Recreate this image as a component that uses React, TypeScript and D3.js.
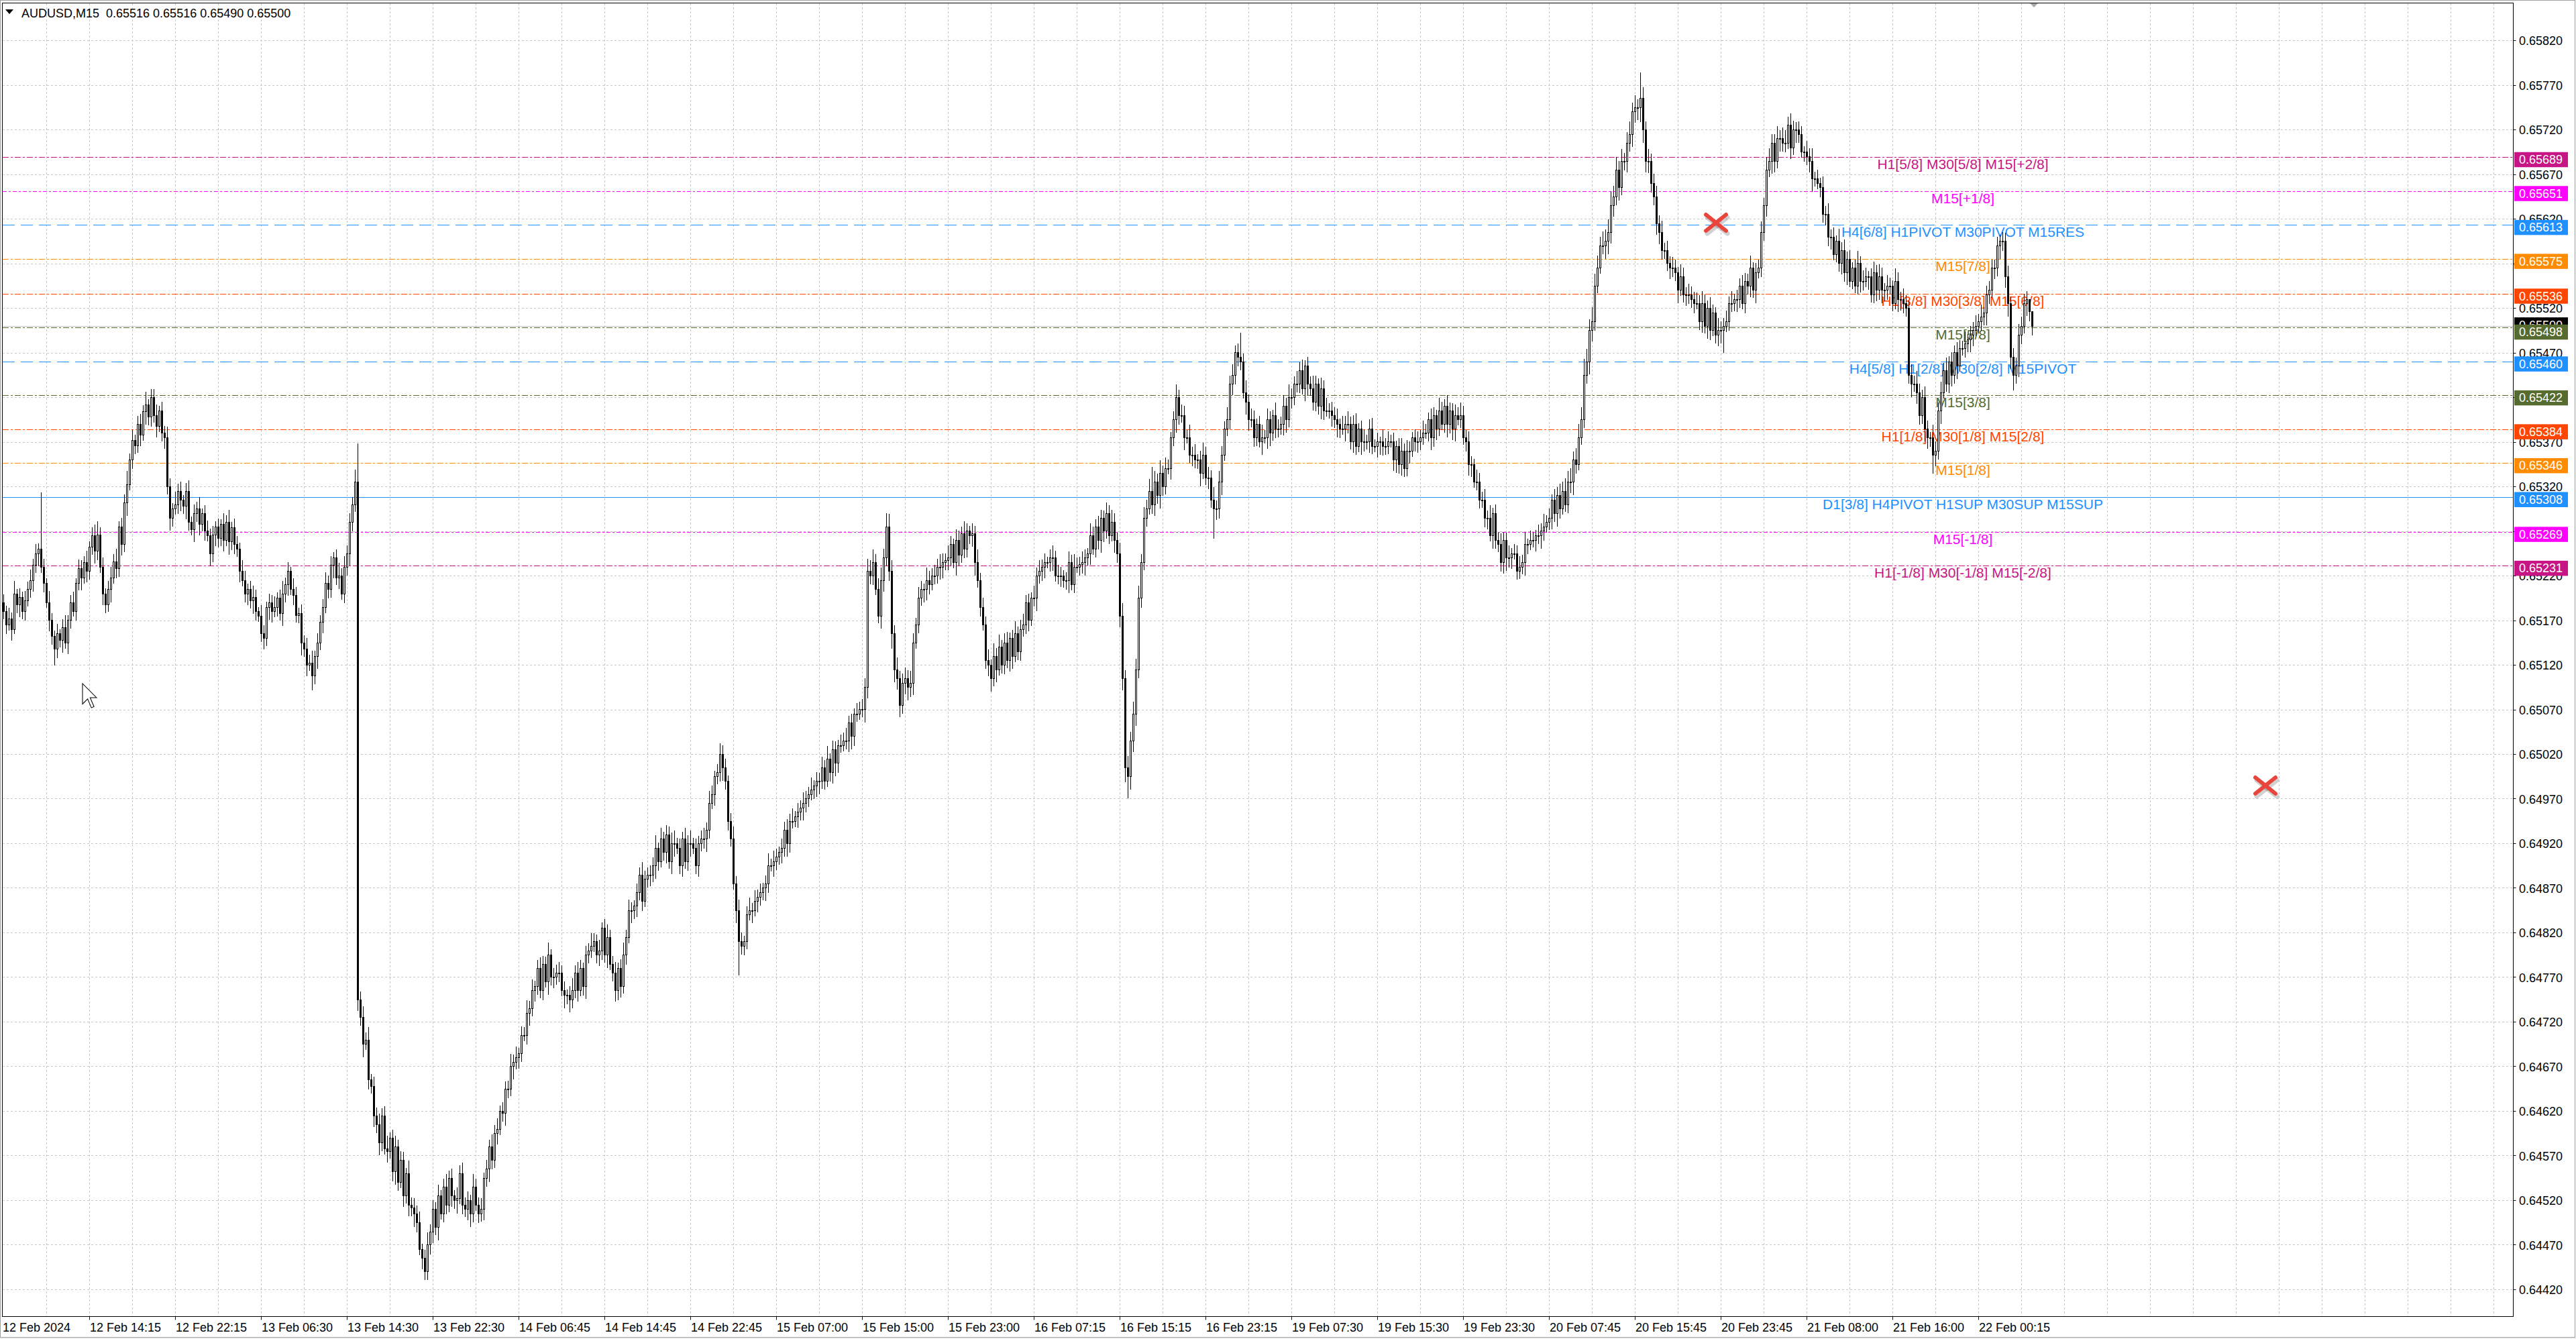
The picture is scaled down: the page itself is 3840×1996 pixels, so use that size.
import React from "react";
import * as d3 from "d3";

// ---------- DATA (prices in points of 0.00001 above 0.64000) ----------
const BASE = 0.64;
const PTS = 0.00001;
const firstOpen = 1190;

const closes = [
  1180,1165,1172,1160,1200,1188,1196,1180,1192,1205,
  1215,1232,1245,1250,1230,1212,1190,1170,1152,1138,
  1155,1148,1162,1145,1170,1190,1180,1212,1228,1218,
  1235,1225,1252,1265,1248,1266,1230,1200,1188,1205,
  1218,1236,1228,1275,1255,1302,1322,1350,1372,1366,
  1390,1378,1404,1412,1398,1420,1400,1388,1405,1380,
  1375,1320,1285,1295,1300,1315,1305,1298,1315,1280,
  1272,1290,1295,1278,1290,1270,1265,1245,1266,1275,
  1262,1278,1260,1280,1258,1274,1255,1250,1225,1215,
  1200,1205,1192,1196,1180,1175,1155,1150,1185,1190,
  1180,1185,1195,1178,1200,1210,1225,1205,1198,1176,
  1178,1145,1138,1120,1122,1108,1130,1145,1168,1185,
  1212,1205,1232,1240,1218,1220,1200,1230,1245,1280,
  1300,1325,745,725,695,700,655,648,615,605,
  585,615,578,575,590,552,580,540,565,525,
  550,515,512,505,495,465,455,440,470,485,
  510,490,525,505,535,515,545,525,520,522,
  550,515,510,520,505,535,515,505,510,545,
  555,580,565,595,600,620,618,645,645,670,
  675,680,685,705,705,730,735,755,760,780,
  755,785,765,795,770,770,775,775,755,750,
  750,745,755,775,755,780,760,795,800,805,
  810,795,800,825,795,815,785,775,755,780,
  760,795,815,845,845,850,865,885,855,880,
  885,885,895,915,900,925,910,930,900,920,
  920,915,895,925,900,920,920,915,895,920,
  925,925,935,965,975,995,1000,1020,1005,990,
  945,925,875,845,810,805,810,840,845,845,
  855,860,865,870,875,895,895,900,905,910,
  915,935,920,945,945,950,955,960,965,970,
  975,980,985,990,990,1005,990,1015,1000,1025,
  1010,1030,1030,1035,1035,1055,1040,1065,1065,1070,
  1070,1095,1225,1220,1235,1205,1175,1215,1240,1275,
  1225,1155,1115,1105,1075,1100,1105,1095,1100,1145,
  1165,1195,1205,1205,1215,1210,1220,1220,1230,1230,
  1235,1237,1240,1255,1235,1260,1243,1267,1250,1270,
  1265,1267,1235,1215,1185,1165,1125,1120,1105,1130,
  1115,1140,1120,1145,1125,1150,1130,1155,1135,1160,
  1165,1190,1170,1195,1195,1220,1225,1230,1235,1235,
  1240,1240,1220,1220,1220,1215,1215,1235,1210,1230,
  1230,1233,1235,1240,1245,1265,1250,1275,1260,1285,
  1270,1290,1265,1280,1260,1245,1175,1105,1005,995,
  1035,1065,1115,1195,1235,1285,1295,1315,1300,1325,
  1310,1335,1320,1340,1340,1375,1395,1420,1400,1400,
  1375,1375,1355,1355,1350,1350,1335,1355,1330,1330,
  1305,1295,1295,1325,1355,1385,1395,1435,1445,1470,
  1465,1460,1425,1415,1395,1395,1375,1390,1370,1375,
  1375,1395,1380,1400,1385,1385,1390,1410,1395,1420,
  1420,1435,1435,1450,1430,1455,1435,1430,1415,1435,
  1410,1430,1405,1405,1405,1400,1395,1390,1385,1385,
  1390,1390,1370,1390,1365,1385,1370,1370,1370,1385,
  1365,1365,1370,1370,1365,1365,1370,1370,1350,1365,
  1345,1360,1340,1360,1360,1375,1370,1370,1375,1380,
  1380,1395,1375,1400,1385,1405,1390,1410,1390,1405,
  1385,1400,1395,1400,1375,1370,1345,1345,1325,1325,
  1305,1305,1285,1285,1265,1290,1260,1255,1235,1260,
  1240,1240,1245,1245,1225,1230,1235,1255,1255,1260,
  1260,1265,1265,1270,1275,1280,1285,1305,1290,1310,
  1295,1315,1300,1325,1325,1350,1345,1375,1395,1445,
  1460,1495,1505,1545,1565,1590,1590,1595,1605,1635,
  1645,1675,1655,1685,1685,1705,1715,1740,1745,1745,
  1755,1720,1685,1685,1660,1645,1615,1605,1585,1585,
  1570,1565,1565,1560,1540,1555,1535,1535,1535,1530,
  1525,1525,1505,1525,1500,1520,1495,1515,1490,1495,
  1495,1500,1505,1525,1525,1530,1530,1545,1525,1550,
  1545,1565,1540,1560,1565,1605,1635,1675,1685,1705,
  1685,1710,1710,1705,1705,1725,1700,1720,1720,1715,
  1695,1695,1690,1685,1665,1665,1660,1655,1625,1625,
  1600,1600,1580,1595,1570,1585,1560,1575,1550,1565,
  1545,1570,1550,1550,1555,1555,1535,1560,1540,1555,
  1540,1540,1545,1545,1525,1550,1530,1530,1525,1520,
  1445,1435,1435,1425,1400,1420,1385,1375,1375,1355,
  1360,1405,1425,1450,1435,1460,1445,1470,1455,1475,
  1475,1480,1485,1490,1495,1500,1505,1510,1515,1535,
  1540,1565,1565,1590,1595,1595,1555,1525,1465,1445,
  1455,1490,1500,1525,1530,1516,1500,
];

const hiExt = [
  9,6,12,7,14,5,10,6,11,8, 12,7,10,6,63,9,5,13,8,6, 11,5,9,14,6,8,12,5,10,9, 7,13,6,9,12,15,8,10,6,9,
  12,8,14,6,10,9,15,7,12,6, 9,11,7,14,6,9,9,12,5,10, 8,12,9,6,14,8,10,5,9,12, 6,10,8,13,5,9,12,8,10,6,
  9,5,12,8,14,6,10,9,7,12, 10,6,9,13,8,5,12,9,6,10, 8,12,6,9,14,8,10,5,12,9, 6,10,8,12,9,14,6,10,8,9,
  12,8,10,6,9,14,8,12,9,10, 8,14,43,9,12,8,14,6,10,9, 12,8,10,14,6,9,12,8,10,9, 6,14,8,10,9,12,6,9,14,8,
  10,8,12,6,9,14,8,10,6,12, 9,12,8,10,6,14,9,8,12,6, 10,8,14,9,12,6,10,8,9,14, 8,12,6,10,9,14,8,12,6,9,
  12,9,8,14,6,10,9,12,8,10, 6,10,14,8,12,9,6,10,8,14, 9,8,12,6,10,14,8,9,12,6, 10,14,8,12,9,6,10,8,14,9,
  8,10,9,14,6,12,8,10,9,12, 14,6,10,8,12,9,14,6,10,8, 9,12,8,14,10,6,9,12,10,10, 6,9,14,8,12,10,6,9,14,8,
  12,8,10,6,9,14,8,12,9,6, 10,9,12,8,14,6,10,8,12,9, 8,14,6,10,9,12,8,14,6,10, 9,6,12,9,14,8,10,6,12,9,
  12,10,14,12,14,9,12,14,10,15, 14,12,9,13,8,10,12,9,13,10, 8,12,9,6,14,10,8,12,9,14, 10,8,14,9,6,12,10,8,14,9,
  6,12,9,14,8,10,9,12,6,14, 9,14,8,10,12,6,9,14,8,10, 12,8,10,6,14,9,12,8,10,6, 9,14,8,12,10,6,9,12,8,14,
  10,8,12,9,6,14,10,8,12,9, 8,12,9,14,10,8,12,14,9,13, 10,14,12,14,9,12,10,13,27,12, 9,14,8,12,10,6,9,14,8,12,
  10,8,14,9,12,6,10,14,9,12, 8,14,9,12,10,8,14,9,12,8, 10,27,9,14,8,12,10,6,9,14, 8,12,9,6,14,10,8,12,9,14,
  10,8,14,9,12,6,10,8,14,9, 6,12,9,14,8,10,9,12,6,14, 9,14,8,10,12,6,9,14,8,10, 12,8,10,6,14,9,12,8,10,6,
  9,14,8,12,10,6,9,12,8,14, 10,8,12,9,6,14,10,8,12,9, 8,12,9,14,10,8,12,9,6,14, 10,9,12,8,14,6,10,8,12,9,
  8,14,6,10,9,12,8,14,6,10, 9,6,12,9,14,8,10,6,12,9, 13,10,14,12,15,9,13,15,14,18, 14,12,16,13,14,10,16,13,14,16,
  12,14,10,13,9,12,14,10,13,9, 29,12,9,13,8,10,12,9,13,8, 10,8,12,9,6,14,10,8,12,9, 8,12,9,14,10,8,12,9,6,14,
  10,9,12,8,14,6,10,8,12,9, 8,14,6,10,9,12,8,14,14,10, 10,14,9,12,14,9,13,10,8,9, 9,6,12,9,14,8,10,6,12,9,
  12,8,10,6,14,9,12,8,10,6, 9,14,8,12,10,6,9,12,8,14, 10,8,12,9,6,14,10,8,12,9, 8,12,9,14,10,8,12,9,6,14,
  10,9,12,8,14,6,10,8,12,9, 8,14,6,10,9,12,8,14,6,10, 10,9,9,10,7,10,9,12,8,10, 9,12,10,11,9,0,0,
];

const loExt = [
  8,10,6,12,5,9,14,8,10,6, 9,12,8,14,6,10,5,12,9,18, 10,8,14,6,12,9,5,10,8,14, 6,12,9,8,14,10,6,12,9,8,
  14,6,10,9,12,8,14,6,10,9, 8,12,6,14,9,10,8,12,6,9, 12,8,14,9,6,10,12,8,14,9, 6,14,9,12,8,10,6,14,9,12,
  10,8,12,6,14,9,10,8,12,6, 9,12,8,14,10,6,9,12,8,14, 12,6,10,8,14,9,12,6,10,8, 9,14,8,12,6,16,9,14,8,12,
  6,10,9,14,8,12,6,10,9,14, 10,8,12,9,14,6,10,8,12,9, 14,9,6,12,8,10,14,9,6,12, 8,12,9,14,10,6,12,9,9,10,
  12,8,14,6,9,10,8,12,9,14, 6,10,8,12,14,9,6,10,8,12, 9,14,10,8,12,6,9,14,10,8, 14,8,12,9,6,10,14,8,12,9,
  8,10,6,14,9,12,8,10,6,14, 10,14,9,8,12,6,10,14,9,8, 6,9,12,10,8,14,6,9,12,10, 12,8,10,6,14,9,12,8,10,6,
  9,12,8,14,10,6,9,12,8,14, 14,6,9,12,8,10,14,6,9,12, 8,10,14,9,6,12,8,10,14,9, 10,8,6,14,37,9,10,8,6,14,
  6,12,9,8,14,10,6,12,9,8, 12,9,14,10,8,6,12,9,14,10, 9,6,10,12,14,8,9,6,10,12, 14,10,8,6,9,12,14,10,8,6,
  8,14,12,9,10,6,8,14,12,9, 10,16,14,12,13,9,12,14,10,13, 6,9,8,14,12,10,6,9,8,14, 12,8,10,9,6,14,12,8,10,9,
  9,12,14,8,10,6,9,12,14,8, 14,6,9,10,8,12,14,6,9,10, 8,10,12,6,9,14,8,10,12,6, 10,14,6,9,12,8,10,14,6,9,
  6,9,10,14,8,12,6,9,10,14, 12,8,9,6,14,10,12,13,16,24, 14,12,13,9,10,8,9,6,10,12, 9,14,10,8,6,12,9,14,10,8,
  14,6,8,12,9,10,14,6,8,12, 8,33,12,10,14,6,8,10,12,10, 10,9,6,14,12,8,10,9,6,14, 6,12,14,8,10,9,6,12,14,8,
  12,8,9,10,6,14,12,8,9,10, 9,14,10,6,8,12,9,14,10,6, 14,10,8,12,9,6,14,10,8,12, 8,6,12,14,10,9,8,6,12,14,
  10,12,9,8,14,6,10,12,9,8, 6,9,14,10,12,8,6,9,14,10, 12,14,6,9,8,10,12,14,6,9, 9,8,10,12,6,14,9,8,10,12,
  14,10,12,6,9,8,8,14,10,6, 8,12,9,14,10,6,8,12,9,14, 10,6,8,9,12,14,10,6,8,9, 9,14,12,10,8,6,9,14,14,12,
  12,9,14,8,10,12,9,14,12,14, 16,14,12,13,10,9,12,13,10,9, 8,12,10,9,14,6,8,12,10,9, 10,6,9,12,8,14,10,6,9,12,
  14,25,6,10,9,8,14,9,6,10, 9,12,8,14,6,10,9,12,8,14, 12,8,14,9,10,6,12,8,14,9, 6,10,9,12,14,8,6,10,9,12,
  10,14,6,8,9,12,10,14,6,8, 8,9,12,10,6,14,8,9,12,10, 14,12,10,9,8,6,14,12,10,9, 9,14,8,12,10,9,14,12,10,20,
  12,9,14,6,8,10,12,9,14,6, 8,10,9,14,12,6,8,10,9,14, 10,8,12,9,14,10,12,14,13,17, 9,12,10,8,13,10,10,
];

const yTicks = [
  0.6442,0.6447,0.6452,0.6457,0.6462,0.6467,0.6472,0.6477,0.6482,0.6487,
  0.6492,0.6497,0.6502,0.6507,0.6512,0.6517,0.6522,0.6527,0.6532,0.6537,
  0.6542,0.6547,0.6552,0.6557,0.6562,0.6567,0.6572,0.6577,0.6582,
];

const xLabels = [
  "12 Feb 2024","12 Feb 14:15","12 Feb 22:15","13 Feb 06:30","13 Feb 14:30","13 Feb 22:30",
  "14 Feb 06:45","14 Feb 14:45","14 Feb 22:45","15 Feb 07:00","15 Feb 15:00","15 Feb 23:00",
  "16 Feb 07:15","16 Feb 15:15","16 Feb 23:15","19 Feb 07:30","19 Feb 15:30","19 Feb 23:30",
  "20 Feb 07:45","20 Feb 15:45","20 Feb 23:45","21 Feb 08:00","21 Feb 16:00","22 Feb 00:15",
];
const barsPerLabel = 32;
const barsPerGrid = 16;

const levelPrices = [0.65689,0.65651,0.65613,0.65575,0.65536,0.65498,0.6546,0.65422,0.65384,0.65346,0.65308,0.65269,0.65231];
const levelTexts = [
  "H1[5/8] M30[5/8] M15[+2/8]",
  "M15[+1/8]",
  "H4[6/8] H1PIVOT M30PIVOT M15RES",
  "M15[7/8]",
  "H1[3/8] M30[3/8] M15[6/8]",
  "M15[5/8]",
  "H4[5/8] H1[2/8] M30[2/8] M15PIVOT",
  "M15[3/8]",
  "H1[1/8] M30[1/8] M15[2/8]",
  "M15[1/8]",
  "D1[3/8] H4PIVOT H1SUP M30SUP M15SUP",
  "M15[-1/8]",
  "H1[-1/8] M30[-1/8] M15[-2/8]",
];
const levelColors = ["#C71585","#FF00FF","#1E90FF","#FF8C00","#FF4500","#556B2F","#1E90FF","#556B2F","#FF4500","#FF8C00","#1E90FF","#FF00FF","#C71585"];
const levelDash = ["9,3,3,3","6,3,3,3","18,9","9,3,3,3","9,3,3,3","9,3,3,3","18,9","9,3,3,3","9,3,3,3","9,3,3,3","none","6,3,3,3","9,3,3,3"];
const levelBoxShift = [0,0,0,0,0,3,0,0,0,0,0,0,0];

const header = "AUDUSD,M15  0.65516 0.65516 0.65490 0.65500";
const bidPrice = 0.655;
const crosses = [[2558, 332], [3377, 1171]];

// ---------- LAYOUT ----------
const W = 3840, H = 1996;
const PL = 3.5, PR = 3746.5, PTOP = 4.5, PB = 1962.5;
const FONT = "'Liberation Sans', Arial, sans-serif";

export default function App() {
  const y = d3.scaleLinear().domain([0.6442, 0.6582]).range([1922, 60]);
  const x = d3.scaleLinear().domain([0, 1]).range([5, 9]);

  const bars = closes.map((c, i) => {
    const o = i === 0 ? firstOpen : closes[i - 1];
    const hi = Math.max(o, c) + hiExt[i];
    const lo = Math.min(o, c) - loExt[i];
    return { o: BASE + o * PTS, c: BASE + c * PTS, h: BASE + hi * PTS, l: BASE + lo * PTS };
  });

  const nGrid = Math.floor((PR - x(0)) / (x(barsPerGrid) - x(0)));
  const gridXs = d3.range(1, nGrid + 1).map((k) => x(k * barsPerGrid));
  const lastX = x(closes.length - 1);

  return (
    <svg width={W} height={H} style={{ position: "absolute", left: 0, top: 0, background: "#fff" }} xmlns="http://www.w3.org/2000/svg">
      <rect x={0} y={0} width={W} height={H} fill="#ffffff" />
      <rect x={0.5} y={0.5} width={W - 2} height={1993} fill="none" stroke="#A0A0A0" strokeWidth={1} />
      <rect x={0} y={1994} width={W} height={2} fill="#F0F0F0" />

      {/* grid */}
      <g stroke="#C8C8C8" strokeWidth={1} strokeDasharray="3,3" shapeRendering="crispEdges">
        {yTicks.map((t) => (
          <line key={"gy" + t} x1={PL} x2={PR} y1={Math.round(y(t)) + 0.5} y2={Math.round(y(t)) + 0.5} />
        ))}
        {gridXs.map((gx, i) => (
          <line key={"gx" + i} x1={gx + 0.5} x2={gx + 0.5} y1={PTOP} y2={PB} />
        ))}
      </g>

      {/* bid line */}
      <line x1={PL} x2={PR} y1={Math.round(y(bidPrice)) + 0.5} y2={Math.round(y(bidPrice)) + 0.5} stroke="#C0C0C0" strokeWidth={1} />

      {/* level lines */}
      <g shapeRendering="crispEdges">
        {levelPrices.map((p, i) => (
          <line key={"lv" + i} x1={PL} x2={PR} y1={Math.round(y(p)) + 0.5} y2={Math.round(y(p)) + 0.5}
            stroke={levelColors[i]} strokeWidth={1} strokeDasharray={levelDash[i]} />
        ))}
      </g>

      {/* level texts */}
      <g fontFamily={FONT} fontSize={21} textAnchor="middle">
        {levelPrices.map((p, i) => (
          <text key={"lt" + i} x={2926} y={y(p) + 18} fill={levelColors[i]}>{levelTexts[i]}</text>
        ))}
      </g>

      {/* candles */}
      <g shapeRendering="crispEdges">
        {bars.map((b, i) => {
          const cx = Math.round(x(i));
          const top = Math.round(y(Math.max(b.o, b.c)));
          const bot = Math.round(y(Math.min(b.o, b.c)));
          const bull = b.c > b.o;
          return (
            <g key={"c" + i}>
              <line x1={cx + 0.5} x2={cx + 0.5} y1={Math.round(y(b.h))} y2={Math.round(y(b.l)) + 1} stroke="#000" strokeWidth={1} />
              {bull ? (
                <rect x={cx - 0.5} y={top + 0.5} width={2} height={Math.max(bot - top, 1)} fill="#fff" stroke="#000" strokeWidth={1} />
              ) : (
                <rect x={cx - 1} y={top} width={3} height={Math.max(bot - top, 1) + 1} fill="#000" />
              )}
            </g>
          );
        })}
      </g>

      {/* red crosses */}
      {crosses.map(([cx, cy], i) => (
        <g key={"x" + i} strokeLinecap="round">
          <g stroke="rgba(0,0,0,0.18)" strokeWidth={7} transform="translate(2,4)">
            <line x1={cx - 15} y1={cy - 12} x2={cx + 15} y2={cy + 12} />
            <line x1={cx + 15} y1={cy - 12} x2={cx - 15} y2={cy + 12} />
          </g>
          <g stroke="#E8453C" strokeWidth={6}>
            <line x1={cx - 15} y1={cy - 12} x2={cx + 15} y2={cy + 12} />
            <line x1={cx + 15} y1={cy - 12} x2={cx - 15} y2={cy + 12} />
          </g>
        </g>
      ))}

      {/* mouse cursor */}
      <path transform="translate(123,1019) scale(1.9)" d="M0,0 L0,16 L4,12 L7,19 L9,18 L6,11 L11,11 Z" fill="#fff" stroke="#000" strokeWidth={0.55} />

      {/* plot frame */}
      <rect x={PL} y={PTOP} width={PR - PL} height={PB - PTOP} fill="none" stroke="#000" strokeWidth={1} />

      {/* chart shift marker */}
      <polygon points={`${lastX - 3},5 ${lastX + 9},5 ${lastX + 3},11`} fill="#A8A8A8" />

      {/* header */}
      <polygon points="8,14 20,14 14,21" fill="#000" />
      <text x={32} y={26} fontFamily={FONT} fontSize={18} fill="#000" style={{ whiteSpace: "pre" }}>{header}</text>

      {/* right axis */}
      <g fontFamily={FONT} fontSize={18} fill="#000">
        {yTicks.map((t) => (
          <g key={"yt" + t}>
            <line x1={PR} x2={PR + 4} y1={Math.round(y(t)) + 0.5} y2={Math.round(y(t)) + 0.5} stroke="#000" />
            <text x={3755} y={y(t) + 7}>{t.toFixed(5)}</text>
          </g>
        ))}
      </g>

      {/* current price label */}
      <g fontFamily={FONT} fontSize={18}>
        <rect x={3748} y={y(bidPrice) - 12.5} width={80} height={22.5} fill="#000" />
        <text x={3755} y={y(bidPrice) + 5} fill="#fff">{bidPrice.toFixed(5)}</text>
      </g>

      {/* level price labels */}
      <g fontFamily={FONT} fontSize={18}>
        {levelPrices.map((p, i) => (
          <g key={"lb" + i}>
            <rect x={3748} y={y(p) - 7.5 + levelBoxShift[i]} width={80} height={22.5} fill={levelColors[i]} />
            <text x={3755} y={y(p) + 10 + levelBoxShift[i]} fill="#fff">{p.toFixed(5)}</text>
          </g>
        ))}
      </g>

      {/* bottom axis */}
      <g fontFamily={FONT} fontSize={18} fill="#000">
        {xLabels.map((lab, i) => {
          const tx = Math.round(x(i * barsPerLabel));
          return (
            <g key={"xl" + i}>
              {i > 0 && <line x1={tx + 0.5} x2={tx + 0.5} y1={PB} y2={PB + 5} stroke="#000" />}
              <text x={i === 0 ? 4 : tx + 1} y={1985}>{lab}</text>
            </g>
          );
        })}
      </g>
    </svg>
  );
}
